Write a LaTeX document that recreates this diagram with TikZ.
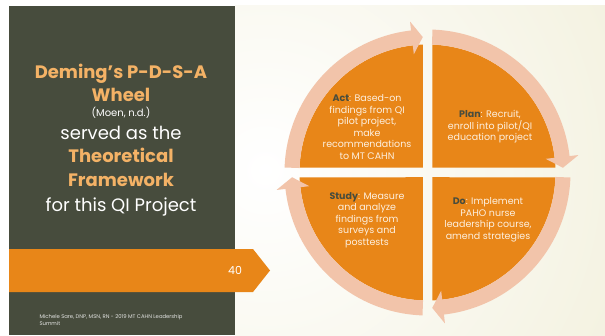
\documentclass[tikz,border=0pt]{standalone}
\usepackage{fontspec}
\setmainfont{Poppins}
\setsansfont{Poppins}

\definecolor{slate}{RGB}{71,76,61}
\definecolor{pumpkin}{RGB}{232,134,24}
\definecolor{peach}{RGB}{242,196,170}
\definecolor{sand}{RGB}{233,229,195}
\definecolor{apricot}{RGB}{244,178,102}
\definecolor{cream}{RGB}{253,240,224}

\newcommand\stagename[1]{{\bfseries\color{slate}#1}}

\begin{document}
\begin{tikzpicture}[x=1pt,y=1pt,
    title/.style={font={\fontsize{18}{18}\selectfont\bfseries},text=apricot,anchor=base},
    plain/.style={font={\fontsize{18}{18}\selectfont},text=white,anchor=base},
    phase/.style={font={\fontsize{9.5}{11.5}\selectfont},text=cream,align=center}]

\useasboundingbox (0,0) rectangle (605,335);
\fill[white] (0,0) rectangle (605,335);

% light backdrop on the right
\begin{scope}
\clip (235,0) rectangle (605,329);
\shade[inner color=white,outer color=sand] (265,165) circle (760);
\end{scope}

% dark side panel and page band
\fill[slate] (9,0) rectangle (235,329);
\fill[pumpkin] (9,43) -- (253,43) -- (270,64.5) -- (253,86) -- (9,86) -- cycle;
\node[font={\fontsize{11}{11}\selectfont},text=white] (page) at (235,65) {40};

\node[title] (deming) at (121,256) {Deming’s P-D-S-A};
\node[title] (wheel) at (121,233) {Wheel};
\node[plain,font={\fontsize{10}{10}\selectfont}] (moen) at (121,218) {(Moen, n.d.)};
\node[plain] (served) at (121,195) {served as the};
\node[title] (theory) at (121,172) {Theoretical};
\node[title] (frame) at (121,148) {Framework};
\node[plain] (forqi) at (121,123) {for this QI Project};

\node[font={\fontsize{5.3}{6.5}\selectfont},text=white!85!slate,align=left,anchor=north west]
    (credit) at (36,24) {Michele Sare, DNP, MSN, RN - 2019 MT CAHN Leadership\\Summit};

% the wheel
\begin{scope}[shift={(427.5,162.5)}]
\foreach \r in {0,90,180,270}
    \fill[pumpkin,rotate=\r] (4.75,4.75) -- (87.87:128)
        arc[start angle=87.87,end angle=2.13,radius=128] -- cycle;

\foreach \s in {178,88,-2,-92}
    \fill[peach] (\s:143) arc[start angle=\s,end angle=\s-81.4,radius=143]
        -- (\s-81.4:152) -- (\s-86:135.5) -- (\s-81.4:119) -- (\s-81.4:128)
        arc[start angle=\s-81.4,end angle=\s,radius=128] -- cycle;

\node[phase] (act) at (-60.5,45.5) {\stagename{Act}: Based-on\\findings from QI\\pilot project,\\make\\recommendations\\to MT CAHN};
\node[phase] (plan) at (62.5,45.5) {\stagename{Plan}: Recruit,\\enroll into pilot/QI\\education project};
\node[phase] (study) at (-60.5,-47.5) {\stagename{Study}: Measure\\and analyze\\findings from\\surveys and\\posttests};
\node[phase] (do) at (60.5,-47.5) {\stagename{Do}: Implement\\PAHO nurse\\leadership course,\\amend strategies};
\end{scope}

\end{tikzpicture}
\end{document}
